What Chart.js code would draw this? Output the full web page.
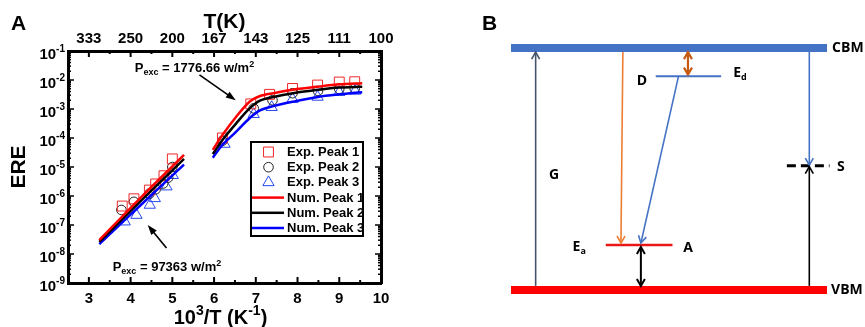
<!DOCTYPE html>
<html>
<head>
<meta charset="utf-8">
<script src="https://cdn.jsdelivr.net/npm/chart.js@4.4.1/dist/chart.umd.min.js"></script>
<style>
  body { margin: 0; background: #fff; width: 865px; height: 327px; overflow: hidden; position: relative; }
  #chartA { position: absolute; left: 0; top: 0; }
  #chartB { position: absolute; left: 470px; top: 0; }
</style>
</head>
<body>
<canvas id="chartA" width="440" height="327"></canvas>
<canvas id="chartB" width="395" height="327"></canvas>
<script>
const FONT = "'Liberation Sans', Arial, sans-serif";
const FONT_B = "'Open Sans', 'Liberation Sans', sans-serif";

// ---- panel A data ----
const axisTicks = [3, 4, 5, 6, 7, 8, 9, 10];
const topTickLabels = ['333', '250', '200', '167', '143', '125', '111', '100'];
const decadeTicks = [1e-9, 1e-8, 1e-7, 1e-6, 1e-5, 1e-4, 1e-3, 1e-2, 1e-1];
const decadeExps = ['-9', '-8', '-7', '-6', '-5', '-4', '-3', '-2', '-1'];

// experimental points, high-power (low x) and low-power (high x) groups
const exp1LowX = [3.8, 4.08, 4.45, 4.6, 4.8, 5.0];
const exp1LowY = [4.5e-7, 8e-7, 1.6e-6, 2.6e-6, 5e-6, 1.9e-5];
const exp1HighX = [6.2, 6.88, 7.33, 7.88, 8.48, 9.0, 9.37];
const exp1HighY = [1.0e-4, 1.5e-3, 3.2e-3, 5.1e-3, 6.7e-3, 8.5e-3, 8.7e-3];

const exp2LowX = [3.78, 4.08, 4.45, 4.6, 4.78, 4.9, 5.0];
const exp2LowY = [3.3e-7, 6.3e-7, 1.2e-6, 1.7e-6, 2.7e-6, 4.3e-6, 1.0e-5];
const exp2HighX = [6.2, 6.95, 7.4, 7.88, 8.49, 9.0, 9.37];
const exp2HighY = [8e-5, 1.05e-3, 2.0e-3, 3.5e-3, 4.2e-3, 4.9e-3, 5.1e-3];

const exp3LowX = [3.86, 4.14, 4.46, 4.58, 4.86, 5.01];
const exp3LowY = [1.3e-7, 2.2e-7, 4.9e-7, 8.3e-7, 2.1e-6, 5.2e-6];
const exp3HighX = [6.25, 6.95, 7.38, 7.88, 8.48, 9.0, 9.38];
const exp3HighY = [6.2e-5, 6.6e-4, 1.15e-3, 2.2e-3, 2.6e-3, 3.8e-3, 4.2e-3];

// numerical curves
const numLowX = [3.25, 4.25, 5.28];
const num1LowY = [3.0e-8, 9e-7, 2.6e-5];
const num2LowY = [2.6e-8, 6.9e-7, 1.9e-5];
const num3LowY = [2.2e-8, 5e-7, 1.2e-5];
const numHighX = [5.97, 6.2, 6.53, 6.85, 7.1, 7.42, 7.89, 8.49, 9.01, 9.55];
const num1HighY = [3.9e-5, 1.26e-4, 5.4e-4, 1.78e-3, 2.8e-3, 3.5e-3, 4.6e-3, 5.9e-3, 7.1e-3, 7.8e-3];
const num2HighY = [2.8e-5, 8.5e-5, 3.2e-4, 1.05e-3, 1.95e-3, 2.6e-3, 3.5e-3, 4.6e-3, 5.5e-3, 5.9e-3];
const num3HighY = [2.1e-5, 5.8e-5, 1.66e-4, 4.8e-4, 8.9e-4, 1.26e-3, 1.78e-3, 2.6e-3, 3.2e-3, 3.8e-3];

// annotations
const noteValues = ['1776.66', '97363'];
const noteAt = [[4.1, 1.95e-2], [3.57, 2.6e-9]];
const noteArrowFrom = [[5.65, 1.5e-2], [4.86, 1.6e-8]];
const noteArrowTo = [[6.52, 2.0e-3], [4.41, 1.0e-7]];

function pts(xs, ys) { return xs.map((x, i) => ({ x, y: ys[i] })); }
function twoGroups(xa, ya, xb, yb) {
  // a null point breaks the line between the two groups
  return pts(xa, ya).concat([{ x: (xa[xa.length - 1] + xb[0]) / 2, y: null }], pts(xb, yb));
}

function richText(ctx, parts, x, y, align) {
  let w = 0;
  parts.forEach(p => { ctx.font = `bold ${p[1]}px ${p[3] || FONT}`; w += ctx.measureText(p[0]).width; });
  let cx = align === 'right' ? x - w : align === 'center' ? x - w / 2 : x;
  parts.forEach(p => {
    ctx.font = `bold ${p[1]}px ${p[3] || FONT}`;
    ctx.fillText(p[0], cx, y + p[2]);
    cx += ctx.measureText(p[0]).width;
  });
}

function line(ctx, x1, y1, x2, y2) {
  ctx.beginPath(); ctx.moveTo(x1, y1); ctx.lineTo(x2, y2); ctx.stroke();
}

const decorA = {
  id: 'decorA',
  afterDraw(chart) {
    const { ctx, chartArea: ca, scales } = chart;
    const sx = scales.x, sy = scales.y;
    ctx.save();
    ctx.strokeStyle = '#000';
    ctx.fillStyle = '#000';
    ctx.lineWidth = 2;

    // inward ticks
    axisTicks.forEach(v => {
      const px = sx.getPixelForValue(v);
      line(ctx, px, ca.bottom, px, ca.bottom - 6);
      line(ctx, px, ca.top, px, ca.top + 6);
      if (v < 10) {
        const mx = sx.getPixelForValue(v + 0.5);
        line(ctx, mx, ca.bottom, mx, ca.bottom - 3);
        line(ctx, mx, ca.top, mx, ca.top + 3);
      }
    });
    ctx.lineWidth = 1.5;
    decadeTicks.forEach((v, i) => {
      const py = sy.getPixelForValue(v);
      line(ctx, ca.left, py, ca.left + 6, py);
      line(ctx, ca.right, py, ca.right - 6, py);
      if (i < decadeTicks.length - 1) {
        for (let m = 2; m < 10; m++) {
          const my = sy.getPixelForValue(v * m);
          line(ctx, ca.left, my, ca.left + 3, my);
          line(ctx, ca.right, my, ca.right - 3, my);
        }
      }
    });

    // y tick labels with superscripts
    ctx.textBaseline = 'alphabetic';
    decadeTicks.forEach((v, i) => {
      const py = sy.getPixelForValue(v);
      richText(ctx, [['10', 15, 0], [decadeExps[i], 10, -7]], ca.left - 3, py + 8, 'right');
    });

    // x title
    richText(ctx, [['10', 20, 0], ['3', 14, -9], ['/T (K', 20, 0], ['-1', 14, -9], [')', 20, 0]],
      (ca.left + ca.right) / 2 - 4, 324, 'center');

    // panel letter
    ctx.font = `bold 21px ${FONT}`;
    ctx.fillText('A', 11, 30);

    // power annotations
    noteValues.forEach((val, i) => {
      const tx = sx.getPixelForValue(noteAt[i][0]), ty = sy.getPixelForValue(noteAt[i][1]);
      richText(ctx, [['P', 13, 0], ['exc', 9, 3], [' = ' + val + ' w/m', 13, 0], ['2', 9, -5]], tx, ty, 'left');
      const x1 = sx.getPixelForValue(noteArrowFrom[i][0]), y1 = sy.getPixelForValue(noteArrowFrom[i][1]);
      const x2 = sx.getPixelForValue(noteArrowTo[i][0]), y2 = sy.getPixelForValue(noteArrowTo[i][1]);
      const a = Math.atan2(y2 - y1, x2 - x1);
      ctx.lineWidth = 1.6;
      line(ctx, x1, y1, x2 - 6 * Math.cos(a), y2 - 6 * Math.sin(a));
      ctx.beginPath();
      ctx.moveTo(x2, y2);
      ctx.lineTo(x2 - 10 * Math.cos(a) + 3.5 * Math.sin(a), y2 - 10 * Math.sin(a) - 3.5 * Math.cos(a));
      ctx.lineTo(x2 - 10 * Math.cos(a) - 3.5 * Math.sin(a), y2 - 10 * Math.sin(a) + 3.5 * Math.cos(a));
      ctx.closePath();
      ctx.fill();
    });

    // legend box
    const lx = ca.right - 130, ly = ca.top + 91, lw = 112, lh = 94;
    ctx.fillStyle = '#fff';
    ctx.fillRect(lx, ly, lw, lh);
    ctx.lineWidth = 2;
    ctx.strokeRect(lx, ly, lw, lh);
    const legendOrder = [0, 1, 2, 3, 4, 5];
    legendOrder.forEach((di, row) => {
      const ds = chart.data.datasets[di];
      const ry = ly + 10 + row * 15.2;
      if (ds.showLine) {
        ctx.strokeStyle = ds.borderColor;
        ctx.lineWidth = 2.5;
        line(ctx, lx + 1, ry, lx + 33, ry);
      } else {
        ctx.strokeStyle = ds.borderColor;
        ctx.fillStyle = 'rgba(0,0,0,0)';
        ctx.lineWidth = 1;
        Chart.helpers.drawPoint(ctx, { pointStyle: ds.pointStyle, radius: ds.pointRadius, rotation: 0, borderWidth: 1 }, lx + 17.5, ry);
      }
      ctx.fillStyle = '#000';
      ctx.font = `bold 13px ${FONT}`;
      ctx.textBaseline = 'middle';
      ctx.fillText(ds.label, lx + 36, ry + 0.5);
    });
    ctx.restore();
  }
};

const tickFont = { family: FONT, size: 15, weight: 'bold' };

new Chart(document.getElementById('chartA'), {
  type: 'scatter',
  data: {
    datasets: [
      { label: 'Exp. Peak 1', data: twoGroups(exp1LowX, exp1LowY, exp1HighX, exp1HighY), pointStyle: 'rect', pointRadius: 7, borderColor: '#f02828', backgroundColor: 'rgba(0,0,0,0)', borderWidth: 1, order: 2 },
      { label: 'Exp. Peak 2', data: twoGroups(exp2LowX, exp2LowY, exp2HighX, exp2HighY), pointStyle: 'circle', pointRadius: 4.8, borderColor: '#222', backgroundColor: 'rgba(0,0,0,0)', borderWidth: 1, order: 2 },
      { label: 'Exp. Peak 3', data: twoGroups(exp3LowX, exp3LowY, exp3HighX, exp3HighY), pointStyle: 'triangle', pointRadius: 6.5, borderColor: '#2848f0', backgroundColor: 'rgba(0,0,0,0)', borderWidth: 1, order: 2 },
      { label: 'Num. Peak 1', data: twoGroups(numLowX, num1LowY, numHighX, num1HighY), showLine: true, pointRadius: 0, borderColor: '#ff0000', borderWidth: 2.5, tension: 0.3, order: 1 },
      { label: 'Num. Peak 2', data: twoGroups(numLowX, num2LowY, numHighX, num2HighY), showLine: true, pointRadius: 0, borderColor: '#000000', borderWidth: 2.5, tension: 0.3, order: 1 },
      { label: 'Num. Peak 3', data: twoGroups(numLowX, num3LowY, numHighX, num3HighY), showLine: true, pointRadius: 0, borderColor: '#0000ff', borderWidth: 2.5, tension: 0.3, order: 1 }
    ]
  },
  options: {
    responsive: false,
    animation: false,
    layout: { padding: { right: 59, left: 0, top: 0, bottom: 0 } },
    plugins: { legend: { display: false }, tooltip: { enabled: false } },
    scales: {
      x: {
        type: 'linear', position: 'bottom', min: 2.5, max: 10,
        afterBuildTicks: s => { s.ticks = axisTicks.map(v => ({ value: v })); },
        afterFit: s => { s.height = 44; },
        grid: { display: false, drawTicks: false },
        border: { color: '#000', width: 3 },
        ticks: { color: '#000', font: tickFont, padding: 7, maxRotation: 0, autoSkip: false }
      },
      x2: {
        type: 'linear', position: 'top', min: 2.5, max: 10,
        afterBuildTicks: s => { s.ticks = axisTicks.map(v => ({ value: v })); },
        afterFit: s => { s.height = 51; },
        grid: { display: false, drawTicks: false },
        border: { color: '#000', width: 3 },
        ticks: { color: '#000', font: tickFont, padding: 3, maxRotation: 0, autoSkip: false, callback: (v, i) => topTickLabels[i] },
        title: { display: true, text: 'T(K)', color: '#000', font: { family: FONT, size: 21, weight: 'bold' }, padding: { top: 10, bottom: 0 } }
      },
      y: {
        type: 'logarithmic', position: 'left', min: 1e-9, max: 1e-1,
        afterBuildTicks: s => { s.ticks = decadeTicks.map(v => ({ value: v })); },
        afterFit: s => { s.width = 68; },
        grid: { display: false, drawTicks: false },
        border: { color: '#000', width: 3 },
        ticks: { display: false },
        title: { display: true, text: 'ERE', color: '#000', font: { family: FONT, size: 21, weight: 'bold' }, padding: { top: 7, bottom: 0 } }
      },
      yr: {
        type: 'logarithmic', position: 'right', min: 1e-9, max: 1e-1,
        afterFit: s => { s.width = 0; },
        grid: { display: false, drawTicks: false },
        border: { color: '#000', width: 3 },
        ticks: { display: false }
      }
    }
  },
  plugins: [decorA]
});

// ---- panel B: energy level diagram (x: lateral position 0..10, y: energy, VBM = 0, CBM = 1) ----
const bandSpan = [0, 10];
const cbmE = 1, vbmE = 0;
const donorE = 0.883, acceptorE = 0.186, trapE = 0.513;
const donorSpan = [4.58, 6.65];
const acceptorSpan = [3.0, 5.11];
const trapSpan = [8.73, 10.08];

const transitionNames = ['G', 'free-to-acceptor', 'donor-acceptor', 'donor', 'acceptor', 'trap capture e', 'trap capture h'];
const transitionFrom = [[0.78, 0.017], [3.54, 0.983], [5.3, 0.883], [5.6, 0.983], [4.11, 0.178], [9.44, 0.983], [9.44, 0.017]];
const transitionTo = [[0.78, 0.983], [3.48, 0.194], [4.11, 0.194], [5.6, 0.89], [4.11, 0.017], [9.44, 0.516], [9.44, 0.51]];
const transitionHeads = ['end', 'end', 'end', 'both', 'both', 'end', 'end'];
const transitionColors = ['#44546a', '#ed7d31', '#4472c4', '#c55a11', '#000000', '#4472c4', '#000000'];
const transitionWidths = [1.6, 1.6, 1.6, 2.2, 2, 1.6, 1.6];

const diagramLabels = [
  { text: 'CBM', x: 10.16, e: 1.0 },
  { text: 'VBM', x: 10.13, e: 0.0 },
  { text: 'G', x: 1.2, e: 0.475 },
  { text: 'D', x: 3.98, e: 0.863 },
  { text: 'E', sub: 'd', x: 7.03, e: 0.896 },
  { text: 'E', sub: 'a', x: 1.95, e: 0.177 },
  { text: 'A', x: 5.45, e: 0.173 },
  { text: 'S', x: 10.32, e: 0.509 }
];

function flatLevel(span, e) { return span.map(x => ({ x, y: e })); }

const diagramDatasets = [
  { data: flatLevel(bandSpan, cbmE), borderColor: '#4472c4', borderWidth: 8 },
  { data: flatLevel(bandSpan, vbmE), borderColor: '#ff0000', borderWidth: 8 },
  { data: flatLevel(donorSpan, donorE), borderColor: '#4472c4', borderWidth: 2 },
  { data: flatLevel(acceptorSpan, acceptorE), borderColor: '#e81818', borderWidth: 2.5 },
  { data: flatLevel(trapSpan, trapE), borderColor: '#000000', borderWidth: 3, borderDash: [9, 5] }
].concat(transitionNames.map((n, i) => ({
  label: n,
  data: [{ x: transitionFrom[i][0], y: transitionFrom[i][1] }, { x: transitionTo[i][0], y: transitionTo[i][1] }],
  borderColor: transitionColors[i],
  borderWidth: transitionWidths[i],
  heads: transitionHeads[i]
}))).map(d => Object.assign({ showLine: true, pointRadius: 0, clip: false, borderCapStyle: 'butt' }, d));

function chevron(ctx, xFrom, yFrom, xTip, yTip) {
  const a = Math.atan2(yTip - yFrom, xTip - xFrom);
  const L = 7, W = 4;
  ctx.beginPath();
  ctx.moveTo(xTip - L * Math.cos(a) + W * Math.sin(a), yTip - L * Math.sin(a) - W * Math.cos(a));
  ctx.lineTo(xTip, yTip);
  ctx.lineTo(xTip - L * Math.cos(a) - W * Math.sin(a), yTip - L * Math.sin(a) + W * Math.cos(a));
  ctx.stroke();
}

const decorB = {
  id: 'decorB',
  afterDatasetsDraw(chart) {
    const { ctx, scales } = chart;
    ctx.save();
    ctx.lineJoin = 'miter';
    chart.data.datasets.forEach((ds, i) => {
      if (!ds.heads) return;
      const pts = chart.getDatasetMeta(i).data;
      ctx.strokeStyle = ds.borderColor;
      ctx.lineWidth = ds.borderWidth;
      chevron(ctx, pts[0].x, pts[0].y, pts[1].x, pts[1].y);
      if (ds.heads === 'both') chevron(ctx, pts[1].x, pts[1].y, pts[0].x, pts[0].y);
    });
    ctx.fillStyle = '#000';
    ctx.textBaseline = 'middle';
    diagramLabels.forEach(l => {
      const px = scales.x.getPixelForValue(l.x), py = scales.y.getPixelForValue(l.e);
      const parts = [[l.text, 14, 0, FONT_B]];
      if (l.sub) parts.push([l.sub, 9, 4, FONT_B]);
      richText(ctx, parts, px, py, 'left');
    });
    ctx.textBaseline = 'alphabetic';
    ctx.font = `bold 21px ${FONT}`;
    ctx.fillText('B', 12, 30);
    ctx.restore();
  }
};

new Chart(document.getElementById('chartB'), {
  type: 'scatter',
  data: { datasets: diagramDatasets },
  options: {
    responsive: false,
    animation: false,
    layout: { padding: { left: 41, right: 38, top: 48, bottom: 37 } },
    plugins: { legend: { display: false }, tooltip: { enabled: false } },
    scales: {
      x: { type: 'linear', min: 0, max: 10, display: false },
      y: { type: 'linear', min: 0, max: 1, display: false }
    }
  },
  plugins: [decorB]
});
</script>
</body>
</html>
